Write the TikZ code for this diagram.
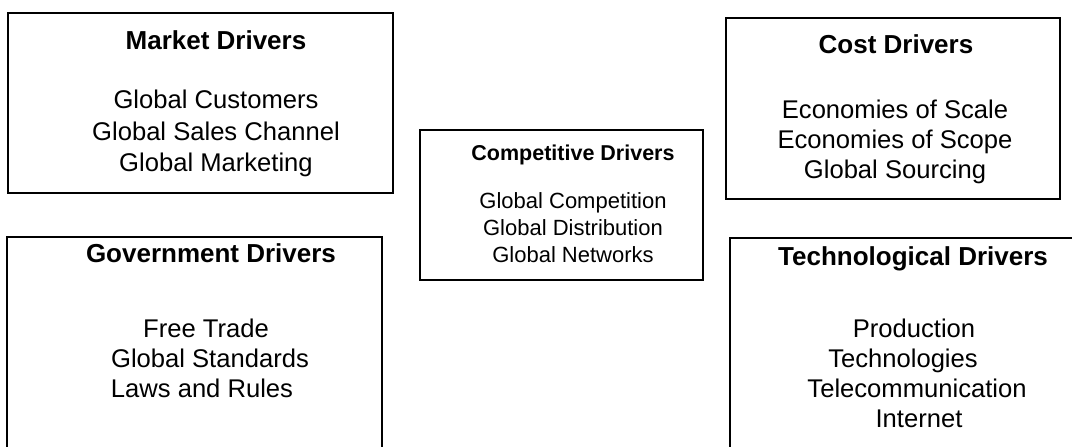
\documentclass[tikz,border=0pt]{standalone}
\usepackage{fontspec}
\setmainfont{Liberation Sans}
\begin{document}
\begin{tikzpicture}[x=1pt,y=-1pt,
  panel/.style={draw=black,line width=2pt,inner sep=0pt,outer sep=0pt},
  headline/.style={inner sep=0pt,anchor=base,font=\fontsize{26}{30}\selectfont\bfseries},
  entry/.style={inner sep=0pt,anchor=base,font=\fontsize{25.6}{30}\selectfont},
  smallhead/.style={inner sep=0pt,anchor=base,font=\fontsize{21.5}{26}\selectfont\bfseries},
  smallentry/.style={inner sep=0pt,anchor=base,font=\fontsize{22}{26}\selectfont}]
% page frame; the two lower boxes run past its bottom and right edges
\clip (0,0) rectangle (1072,447);
\fill[white] (0,0) rectangle (1072,447);

% Market drivers
\node[panel,minimum width=385pt,minimum height=180pt] (market) at (200.5,103) {};
\node[headline] (marketT) at (216,49) {Market Drivers};
\node[entry] (market1) at (216,108) {Global Customers};
\node[entry] (market2) at (216,140) {Global Sales Channel};
\node[entry] (market3) at (216,171) {Global Marketing};

% Cost drivers
\node[panel,minimum width=334pt,minimum height=181pt] (cost) at (893,108.5) {};
\node[headline] (costT) at (896,53) {Cost Drivers};
\node[entry] (cost1) at (895,118) {Economies of Scale};
\node[entry] (cost2) at (895,148) {Economies of Scope};
\node[entry] (cost3) at (895,178) {Global Sourcing};

% Competitive drivers
\node[panel,minimum width=283pt,minimum height=150pt] (comp) at (561.5,205) {};
\node[smallhead] (compT) at (573,160) {Competitive Drivers};
\node[smallentry] (comp1) at (573,208) {Global Competition};
\node[smallentry] (comp2) at (573,235) {Global Distribution};
\node[smallentry] (comp3) at (573,262) {Global Networks};

% Government drivers
\node[panel,minimum width=375pt,minimum height=233pt] (gov) at (194.5,353.5) {};
\node[headline] (govT) at (211,262) {Government Drivers};
\node[entry] (gov1) at (206,337) {Free Trade};
\node[entry] (gov2) at (210,367) {Global Standards};
\node[entry] (gov3) at (202,397) {Laws and Rules};

% Technological drivers
\node[panel,minimum width=360pt,minimum height=232pt] (tech) at (910,354) {};
\node[headline] (techT) at (913,265) {Technological Drivers};
\node[entry] (tech1) at (914,337) {Production};
\node[entry] (tech2) at (903,367) {Technologies};
\node[entry] (tech3) at (917,397) {Telecommunication};
\node[entry] (tech4) at (919,427) {Internet};
\end{tikzpicture}
\end{document}
